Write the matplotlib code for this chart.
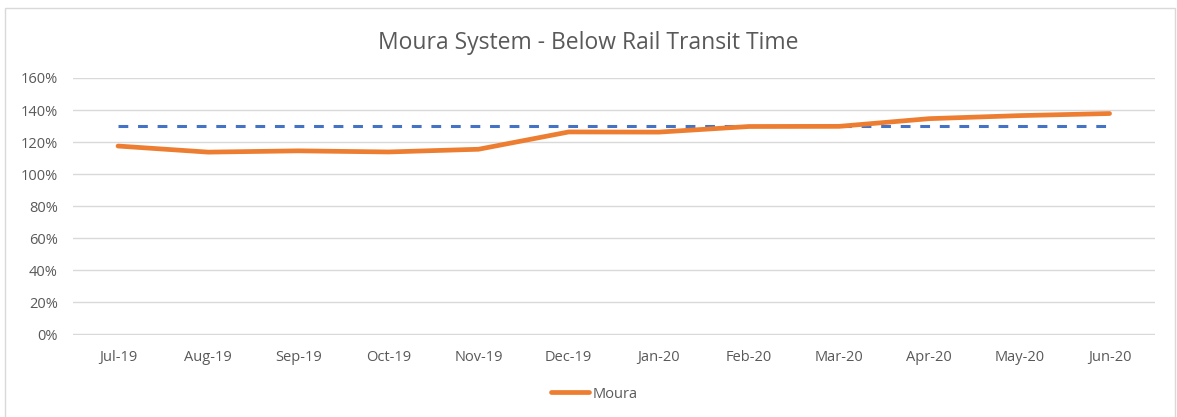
import matplotlib.pyplot as plt
from matplotlib.patches import Rectangle
from matplotlib.ticker import FuncFormatter

months = ["Jul-19", "Aug-19", "Sep-19", "Oct-19", "Nov-19", "Dec-19",
          "Jan-20", "Feb-20", "Mar-20", "Apr-20", "May-20", "Jun-20"]
moura = [1.175, 1.137, 1.145, 1.138, 1.155, 1.263,
         1.262, 1.297, 1.298, 1.346, 1.365, 1.378]
target = [1.30] * len(months)

plt.rcParams["font.family"] = ["Open Sans", "DejaVu Sans"]
TEXT = "#595959"

fig = plt.figure(figsize=(11.77, 4.17), dpi=100)
ax = fig.add_axes([0.062, 0.197, 0.919, 0.616])

x = list(range(len(months)))
ax.plot(x, target, color="#4472C4", linewidth=2.2, linestyle=(0, (3.2, 3.2)), zorder=3)
ax.plot(x, moura, color="#ED7D31", linewidth=3.4, solid_capstyle="round",
        label="Moura", zorder=4)

ax.set_xlim(-0.5, len(months) - 0.5)
ax.set_ylim(-0.004, 1.6)
ax.set_yticks([i * 0.2 for i in range(9)])
ax.yaxis.set_major_formatter(FuncFormatter(lambda v, _: f"{v * 100:.0f}%"))
ax.set_xticks(x)
ax.set_xticklabels(months)
ax.tick_params(axis="both", length=0, colors=TEXT, labelsize=10.5)
ax.tick_params(axis="x", pad=11)
ax.tick_params(axis="y", pad=11)
ax.grid(axis="y", color="#D9D9D9", linewidth=1)
ax.set_axisbelow(True)
for s in ax.spines.values():
    s.set_visible(False)

fig.text(0.5, 0.898, "Moura System - Below Rail Transit Time", ha="center",
         va="center", fontsize=16.5, color=TEXT)

fig.legend(loc="center", bbox_to_anchor=(0.505, 0.055), frameon=False,
           fontsize=10.5, labelcolor=TEXT, handlelength=2.6, handletextpad=0.2)

fig.patches.append(Rectangle((0.004, -0.01), 0.994, 0.99, transform=fig.transFigure,
                             fill=False, edgecolor="#D9D9D9", linewidth=1))

fig.savefig("out.png", dpi=100)
